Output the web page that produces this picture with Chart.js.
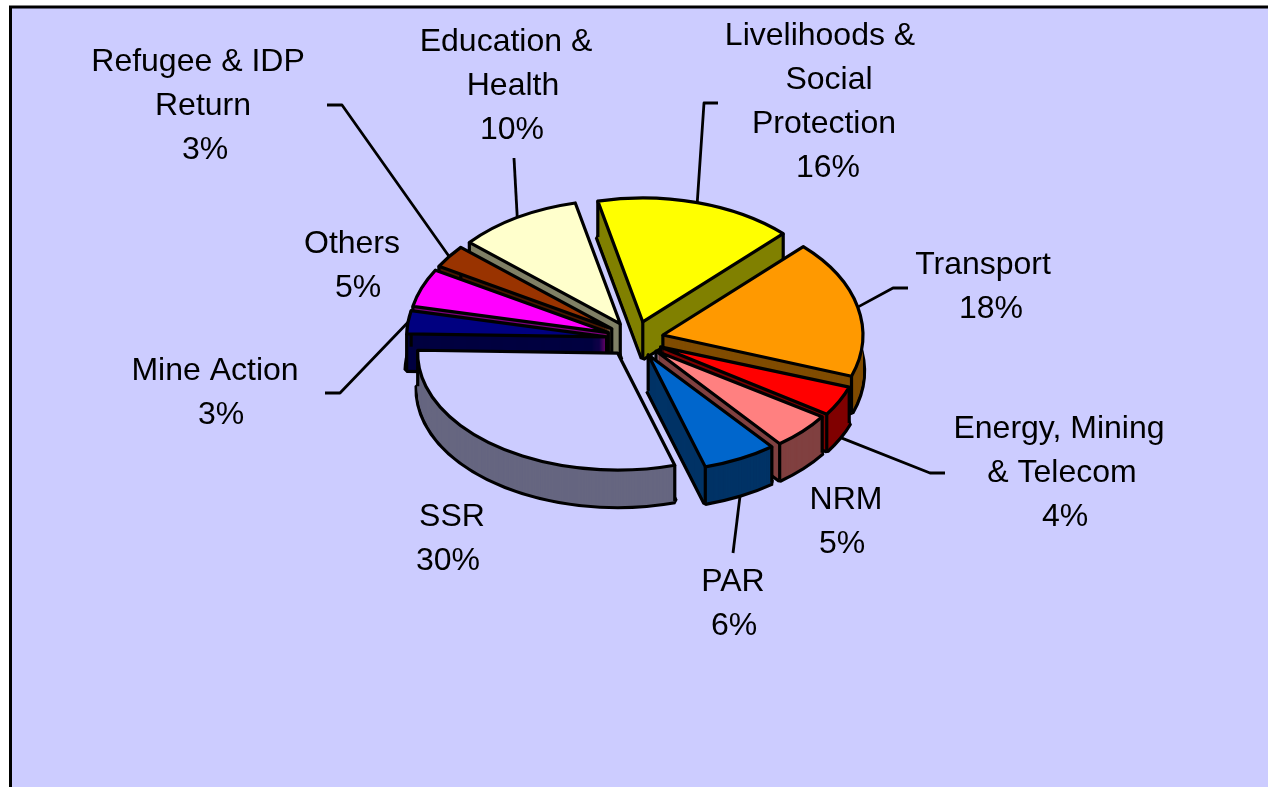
<!DOCTYPE html>
<html>
<head>
<meta charset="utf-8">
<style>html,body{margin:0;padding:0;background:#fff;overflow:hidden}canvas{display:block}</style>
<script src="https://cdn.jsdelivr.net/npm/chart.js@4"></script>
</head>
<body>
<canvas id="c" width="1268" height="787"></canvas>
<script>
const categories = ['Livelihoods & Social Protection','Transport','Energy, Mining & Telecom','NRM','PAR','SSR','Mine Action','Others','Refugee & IDP Return','Education & Health'];
const shares = [16,18,4,5,6,30,3,5,3,10];
const topColors = ['#FFFF00','#FF9900','#FF0000','#FF8080','#0066CC','#CCCCFF','#000080','#FF00FF','#993300','#FFFFCC'];
const sideColors = ['#808000','#804C00','#800000','#804040','#003366','#666680','#000040','#800080','#4C1900','#808066'];
// Foreshortening by slice: near slices are squashed slightly more
const sliceTilt = [0.62,0.62,0.605,0.59,0.585,0.585,0.62,0.62,0.62,0.62];

// Label layout: [text, centre x, centre y] per line
const labelLines = [
  ['Refugee & IDP',198,62],['Return',203,106],['3%',205,150],
  ['Education &',506,42],['Health',513,86],['10%',512,130],
  ['Livelihoods &',820,36],['Social',829,80],['Protection',824,124],['16%',828,168],
  ['Transport',983,265],['18%',991,309],
  ['Energy, Mining',1059,429],['& Telecom',1062,473],['4%',1065,517],
  ['NRM',846,500],['5%',842,544],
  ['PAR',733,582],['6%',734,626],
  ['SSR',452,517],['30%',448,561],
  ['Mine Action',215,371],['3%',221,415],
  ['Others',352,244],['5%',358,288]
];
// Leader elbows by slice index; each leader starts on its slice's rim
const leaderElbows = {0:[[704,103],[718,103]],1:[[893,288],[908,288]],2:[[930,473],[945,473]],4:[[733,553]],6:[[340,393],[325,393]],8:[[342,105],[327,105]],9:[[514,158]]};
const leaderOnWall = {2:true,4:true};

const TILT = 0.62, DEPTH = 36, EXPLODE = 28.6, STROKE = 3.2;

function geometry(arc, i){
  const mid = (arc.startAngle + arc.endAngle)/2;
  return {mid, k: sliceTilt[i], ax: arc.x + Math.cos(mid)*EXPLODE, ay: arc.y + Math.sin(mid)*EXPLODE*TILT, r: arc.outerRadius};
}
function paintArc(ctx, arc, color, g, drop){
  const saved = arc.options;
  arc.options = Object.assign({}, saved, {backgroundColor: color, borderWidth: 0});
  ctx.save();
  ctx.translate(g.ax, g.ay + drop);
  ctx.scale(1, g.k);
  ctx.translate(-arc.x, -arc.y);
  arc.draw(ctx);
  ctx.restore();
  arc.options = saved;
}
function outline(ctx, arc, g, drop){
  ctx.beginPath();
  ctx.moveTo(g.ax, g.ay + drop);
  ctx.ellipse(g.ax, g.ay + drop, g.r, g.r*g.k, 0, arc.startAngle, arc.endAngle);
  ctx.closePath();
  ctx.stroke();
}
const pie3d = {
  id: 'pie3d',
  beforeDraw(chart){
    const ctx = chart.ctx;
    ctx.save();
    ctx.fillStyle = '#CCCCFF';
    ctx.fillRect(10, 7, chart.width, chart.height);
    ctx.strokeStyle = '#000';
    ctx.lineWidth = 3;
    ctx.beginPath();
    ctx.moveTo(10.5, chart.height); ctx.lineTo(10.5, 7); ctx.lineTo(chart.width, 7);
    ctx.stroke();
    ctx.restore();
  },
  beforeDatasetsDraw(chart){
    const ctx = chart.ctx;
    const arcs = chart.getDatasetMeta(0).data;
    ctx.save();
    ctx.strokeStyle = '#000';
    // leaders
    ctx.lineJoin = 'round';
    ctx.lineWidth = 2.8;
    Object.keys(leaderElbows).forEach(k => {
      const g = geometry(arcs[k], k);
      ctx.beginPath();
      ctx.moveTo(g.ax + Math.cos(g.mid)*g.r, g.ay + Math.sin(g.mid)*g.r*g.k + (leaderOnWall[k] ? DEPTH : 0));
      leaderElbows[k].forEach(p => ctx.lineTo(p[0], p[1]));
      ctx.stroke();
    });
    // slices, back to front
    const order = arcs.map((a,i)=>i).sort((p,q)=>{
      const mp=(arcs[p].startAngle+arcs[p].endAngle)/2, mq=(arcs[q].startAngle+arcs[q].endAngle)/2;
      return Math.sin(mp)-Math.sin(mq);
    });
    order.forEach(i => {
      const arc = arcs[i], g = geometry(arc, i);
      // Wide stroke under the wall leaves only the outer half as the silhouette line
      ctx.lineJoin = 'bevel';
      ctx.lineWidth = STROKE*2;
      outline(ctx, arc, g, DEPTH);
      for (let d = DEPTH; d > 0; d--) paintArc(ctx, arc, sideColors[i], g, d);
      ctx.lineJoin = 'round';
      ctx.lineWidth = STROKE;
      const corners = [[g.ax,g.ay],
        [g.ax+Math.cos(arc.startAngle)*g.r, g.ay+Math.sin(arc.startAngle)*g.r*g.k],
        [g.ax+Math.cos(arc.endAngle)*g.r, g.ay+Math.sin(arc.endAngle)*g.r*g.k]];
      corners.forEach(c => {
        ctx.beginPath(); ctx.moveTo(c[0],c[1]); ctx.lineTo(c[0],c[1]+DEPTH); ctx.stroke();
      });
      paintArc(ctx, arc, topColors[i], g, 0);
      outline(ctx, arc, g, 0);
    });
    // labels
    ctx.fillStyle = '#000';
    ctx.font = '32px "Liberation Sans", Arial, sans-serif';
    ctx.textAlign = 'center';
    ctx.textBaseline = 'middle';
    labelLines.forEach(l => ctx.fillText(l[0], l[1], l[2]));
    ctx.restore();
    return false;
  }
};
new Chart(document.getElementById('c'), {
  type: 'pie',
  data: { labels: categories, datasets: [{ data: shares, backgroundColor: topColors, borderWidth: 0 }] },
  options: {
    responsive: false,
    animation: false,
    rotation: -13,
    radius: 200,
    layout: { padding: { left: 2, bottom: 109 } },
    events: [],
    plugins: { legend: { display: false }, tooltip: { enabled: false } }
  },
  plugins: [pie3d]
});
</script>
</body>
</html>
